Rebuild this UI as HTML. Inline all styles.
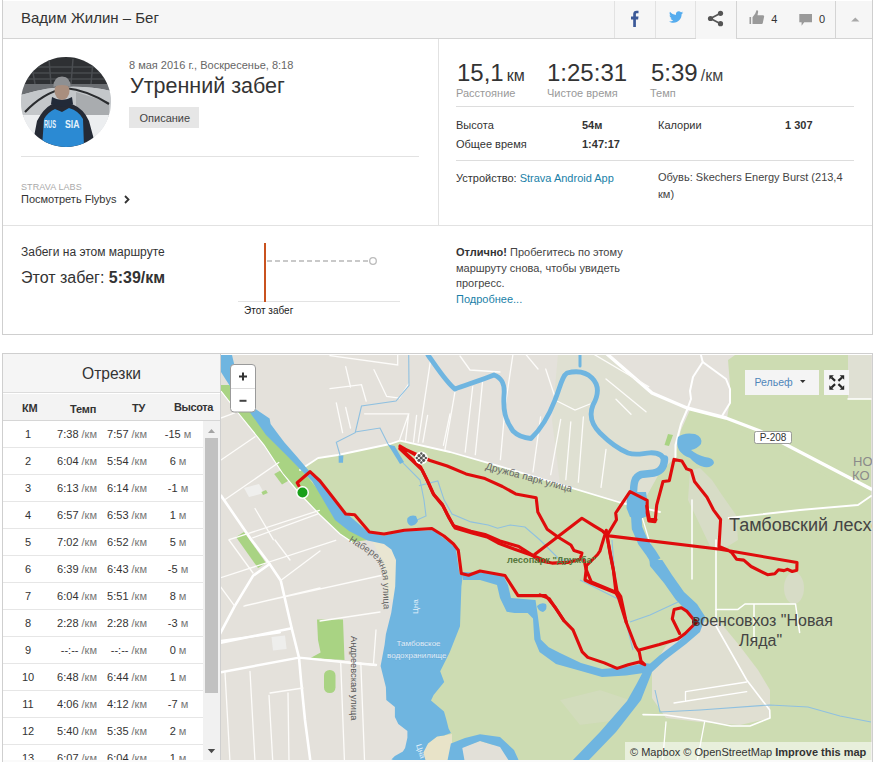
<!DOCTYPE html>
<html><head><meta charset="utf-8">
<style>
*{box-sizing:border-box;margin:0;padding:0}
html,body{width:875px;height:762px;overflow:hidden;background:#fff}
body{position:relative;font-family:"Liberation Sans",Arial,sans-serif;color:#333}
.a{position:absolute}
.t{position:absolute;white-space:nowrap;line-height:1}
.lbl{color:#999;font-size:11px}
.hl{position:absolute;height:1px;background:#ddd}
.vl{position:absolute;width:1px;background:#ddd}
.b{font-weight:bold}
</style></head>
<body>
<!-- CARD 1 -->
<div class="a" style="left:2px;top:0;width:871px;height:335px;border:1px solid #cfcfcf;border-top:none"></div>
<div class="a" style="left:3px;top:1px;width:869px;height:37px;background:#f6f6f6"></div>
<div class="hl" style="left:3px;top:38px;width:693px;background:#d4d4d4"></div>
<div class="hl" style="left:736px;top:38px;width:136px;background:#d4d4d4"></div>
<div class="a" style="left:696px;top:38px;width:40px;height:1px;background:#f6f6f6"></div>
<div class="vl" style="left:614px;top:1px;height:37px;background:#e2e2e2"></div>
<div class="vl" style="left:655px;top:1px;height:37px;background:#e2e2e2"></div>
<div class="vl" style="left:695px;top:1px;height:37px;background:#e2e2e2"></div>
<div class="vl" style="left:736px;top:1px;height:38px;background:#d4d4d4"></div>
<div class="vl" style="left:835px;top:1px;height:37px;background:#d4d4d4"></div>
<div class="t" style="left:21px;top:10px;font-size:15px;color:#333">Вадим Жилин – Бег</div>
<!-- header icons -->
<svg class="a" style="left:600px;top:0" width="275" height="38" viewBox="600 0 275 38">
  <path d="M633.2 27V19.4h-2.2v-3h2.2v-2.3c0-2.3 1.3-3.4 3.3-3.4 0.9 0 1.7 0.1 2 0.1v2.5h-1.3c-1.1 0-1.3 0.5-1.3 1.2v1.9h2.6l-0.4 3h-2.2V27z" fill="#3b5998"/>
  <path d="M683.2 12.6c-0.5 0.2-1.1 0.4-1.7 0.5 0.6-0.4 1.1-1 1.3-1.6-0.6 0.3-1.2 0.6-1.9 0.7-0.5-0.6-1.3-0.9-2.1-0.9-1.6 0-2.9 1.3-2.9 2.9 0 0.2 0 0.5 0.1 0.7-2.4-0.1-4.6-1.3-6-3.1-0.3 0.4-0.4 0.9-0.4 1.5 0 1 0.5 1.9 1.3 2.4-0.5 0-0.9-0.2-1.3-0.4 0 1.4 1 2.6 2.3 2.9-0.4 0.1-0.9 0.1-1.3 0.1 0.4 1.2 1.4 2 2.7 2-1 0.8-2.3 1.2-3.6 1.2-0.2 0-0.5 0-0.7 0 1.3 0.8 2.8 1.3 4.4 1.3 5.3 0 8.2-4.4 8.2-8.2v-0.4c0.6-0.4 1.1-0.9 1.5-1.5z" fill="#55acee"/>
  <g fill="#555" stroke="#555">
    <circle cx="710.5" cy="18.5" r="2.6" stroke="none"/>
    <circle cx="720.5" cy="13.3" r="2.6" stroke="none"/>
    <circle cx="720.5" cy="23.7" r="2.6" stroke="none"/>
    <path d="M710.5 18.5L720.5 13.3M710.5 18.5L720.5 23.7" stroke-width="1.8" fill="none"/>
  </g>
  <g fill="#9a9a9a">
    <rect x="749.5" y="17" width="1.6" height="7" />
    <path d="M752.5 17.2l2.8-3.6 1.2-3.4c1.2-0.2 1.8 0.6 1.6 1.8l-0.6 3.2h5.3c0.9 0 1.5 0.8 1.3 1.6l-1.3 6.3c-0.2 0.7-0.8 1-1.4 1h-8.9z"/>
    <path d="M799.3 14h12.7v8.3h-7.8l-2.6 3.4v-3.4h-2.3z"/>
    <path d="M851.2 21.6l4.1-4.2 4.1 4.2z" fill="#a8a8a8"/>
  </g>
  <text x="771.3" y="22.8" font-size="11" fill="#333" font-family="Liberation Sans, Arial, sans-serif">4</text>
  <text x="819" y="22.8" font-size="11" fill="#333" font-family="Liberation Sans, Arial, sans-serif">0</text>
</svg>

<!-- left column -->
<svg class="a" style="left:21px;top:57px" width="90" height="90" viewBox="0 0 90 90">
  <defs><clipPath id="cc"><circle cx="45" cy="45" r="45"/></clipPath></defs>
  <g clip-path="url(#cc)">
    <rect width="90" height="90" fill="#d9dcdf"/>
    <rect width="90" height="27" fill="#2e3033"/>
    <path d="M0 10H90M0 16H90M0 22H90" stroke="#55585c" stroke-width="1.2"/>
    <path d="M10 4L14 27M28 2L30 27M52 2L50 27M72 4L70 27" stroke="#4a4d51" stroke-width="1.5"/>
    <path d="M0 27H90V34Q45 24 0 38z" fill="#6b6e72"/>
    <path d="M0 38 Q45 24 90 34 L90 60 L0 60z" fill="#c4c7ca"/>
    <path d="M55 35 Q70 40 88 45 L88 58 L55 58z" fill="#a9acaf"/>
    <path d="M0 58 L90 58 L90 90 L0 90z" fill="#eceef0"/>
    <path d="M4 55 Q22 36 44 31 Q66 33 88 47" stroke="#2a2c2f" stroke-width="2.2" fill="none"/>
    <ellipse cx="41" cy="34" rx="7.5" ry="9" fill="#a98e7e"/>
    <path d="M32.5 30 Q32 20 41 19.5 Q50 20 49.5 30 Q41 26 32.5 30z" fill="#8e9093"/>
    <path d="M11 90 L16 64 Q22 52 31 47 L41 49 L51 47 Q63 52 68 64 L75 90z" fill="#252a35"/>
    <path d="M21 90 L23 62 Q27 55 34 52 L41 55 L48 51 Q58 54 62 62 L63 90z" fill="#2b8ad3"/>
    <path d="M31 40 Q41 46 51 40 L52 47 Q41 53 30 47z" fill="#222a38"/>
    <text x="23" y="70.5" font-size="11.5" font-weight="bold" fill="#e6f2fb" textLength="12" lengthAdjust="spacingAndGlyphs" font-family="Liberation Sans, Arial, sans-serif">RUS</text>
    <text x="44" y="70.5" font-size="11.5" font-weight="bold" fill="#e6f2fb" textLength="14.5" lengthAdjust="spacingAndGlyphs" font-family="Liberation Sans, Arial, sans-serif">SIA</text>
  </g>
</svg>
<div class="t" style="left:129px;top:60px;font-size:11px;color:#666">8 мая 2016 г., Воскресенье, 8:18</div>
<div class="t" style="left:130px;top:76px;font-size:21.5px;color:#333">Утренний забег</div>
<div class="a" style="left:129px;top:107px;width:70px;height:21px;background:#e6e6e6"></div>
<div class="t" style="left:139.5px;top:113px;font-size:11px;color:#444">Описание</div>
<div class="hl" style="left:21px;top:156px;width:398px;background:#e2e2e2"></div>
<div class="t" style="left:21px;top:183px;font-size:9px;color:#aaa;letter-spacing:0.1px">STRAVA LABS</div>
<div class="t" style="left:21px;top:194px;font-size:11px;color:#333">Посмотреть Flybys</div>
<svg class="a" style="left:124px;top:195px" width="6" height="9"><path d="M1 1L4.5 4.5L1 8" stroke="#333" stroke-width="1.8" fill="none"/></svg>

<div class="vl" style="left:438px;top:39px;height:186px;background:#e2e2e2"></div>
<div class="hl" style="left:3px;top:225px;width:869px;background:#e2e2e2"></div>

<!-- right stats -->
<div class="t" style="left:457px;top:61px;font-size:24px;color:#333">15,1<span style="font-size:16px;margin-left:3px">км</span></div>
<div class="t" style="left:547px;top:61px;font-size:24px;color:#333">1:25:31</div>
<div class="t" style="left:651px;top:61px;font-size:24px;color:#333">5:39<span style="font-size:16px;margin-left:3px;color:#444">/км</span></div>
<div class="t lbl" style="left:456px;top:88px">Расстояние</div>
<div class="t lbl" style="left:547px;top:88px">Чистое время</div>
<div class="t lbl" style="left:650px;top:88px">Темп</div>
<div class="hl" style="left:456px;top:106px;width:398px;background:#ddd"></div>
<div class="t" style="left:456px;top:120px;font-size:11px">Высота</div>
<div class="t b" style="left:582px;top:120px;font-size:11px">54м</div>
<div class="t" style="left:658px;top:120px;font-size:11px">Калории</div>
<div class="t b" style="left:785px;top:120px;font-size:11px">1 307</div>
<div class="t" style="left:456px;top:139px;font-size:11px">Общее время</div>
<div class="t b" style="left:582px;top:139px;font-size:11px">1:47:17</div>
<div class="hl" style="left:456px;top:160px;width:398px;background:#ddd"></div>
<div class="t" style="left:456px;top:173px;font-size:11px">Устройство: <span style="color:#1a7fa8">Strava Android App</span></div>
<div class="a" style="left:658px;top:169px;width:190px;font-size:11px;line-height:17px;color:#444">Обувь: Skechers Energy Burst (213,4 км)</div>

<!-- route section -->
<div class="t" style="left:21px;top:246px;font-size:12px">Забеги на этом маршруте</div>
<div class="t" style="left:21px;top:270px;font-size:16px">Этот забег: <b>5:39/км</b></div>
<svg class="a" style="left:230px;top:235px" width="180" height="90" viewBox="230 235 180 90">
  <line x1="238" y1="301.5" x2="400" y2="301.5" stroke="#e3e3e3" stroke-width="1"/>
  <line x1="267" y1="261" x2="369" y2="261" stroke="#c9c9c9" stroke-width="2" stroke-dasharray="5 3"/>
  <circle cx="373" cy="261" r="3.3" fill="#fff" stroke="#bbb" stroke-width="1.3"/>
  <line x1="265" y1="243" x2="265" y2="302" stroke="#c9521f" stroke-width="2"/>
  <text x="244" y="314" font-size="10" fill="#222" font-family="Liberation Sans, Arial, sans-serif">Этот забег</text>
</svg>
<div class="a" style="left:456px;top:245px;width:176px;font-size:11px;line-height:15.6px;color:#444"><b style="color:#333">Отлично!</b> Пробегитесь по этому маршруту снова, чтобы увидеть прогресс.<br><span style="color:#1a7fa8">Подробнее...</span></div>

<!-- CARD 2 -->
<div class="a" style="left:2px;top:353px;width:871px;height:409px;border:1px solid #cfcfcf;border-bottom:none"></div>
<div id="seg" class="a" style="left:3px;top:354px;width:217px;height:408px;background:#fff;overflow:hidden"></div>
<!--TABLE-->
<div class="a" style="left:3px;top:354px;width:217px;height:39px;background:#f5f5f5;border-bottom:1px solid #dcdcdc"></div>
<div class="t" style="left:3px;width:217px;text-align:center;top:366px;font-size:15.6px;color:#333">Отрезки</div>
<div class="a" style="left:3px;top:394px;width:217px;height:27px;background:#f3f3f3;border-bottom:1px solid #d6d6d6"></div>
<div class="t" style="left:22px;top:403px;font-size:11px;font-weight:bold;color:#333;letter-spacing:-0.2px">КМ</div>
<div class="t" style="left:70px;top:404px;font-size:11px;font-weight:bold;color:#333;letter-spacing:-0.2px">Темп</div>
<div class="t" style="left:132px;top:403px;font-size:11px;font-weight:bold;color:#333;letter-spacing:-0.2px">ТУ</div>
<div class="t" style="left:174px;top:402px;font-size:11px;font-weight:bold;color:#333;letter-spacing:-0.2px;letter-spacing:-0.4px">Высота</div>
<div class="hl" style="left:3px;top:447px;width:200px;background:#e6e6e6"></div>
<div class="t" style="left:3px;width:50px;text-align:center;top:429px;font-size:11px;color:#333">1</div>
<div class="t" style="right:778px;top:429px;font-size:11px;color:#333">7:38 <span style="color:#777">/км</span></div>
<div class="t" style="right:728px;top:429px;font-size:11px;color:#333">7:57 <span style="color:#777">/км</span></div>
<div class="t" style="left:153px;width:50px;text-align:center;top:429px;font-size:11px;color:#333">-15 <span style="color:#777">м</span></div>
<div class="hl" style="left:3px;top:474px;width:200px;background:#e6e6e6"></div>
<div class="t" style="left:3px;width:50px;text-align:center;top:456px;font-size:11px;color:#333">2</div>
<div class="t" style="right:778px;top:456px;font-size:11px;color:#333">6:04 <span style="color:#777">/км</span></div>
<div class="t" style="right:728px;top:456px;font-size:11px;color:#333">5:54 <span style="color:#777">/км</span></div>
<div class="t" style="left:153px;width:50px;text-align:center;top:456px;font-size:11px;color:#333">6 <span style="color:#777">м</span></div>
<div class="hl" style="left:3px;top:501px;width:200px;background:#e6e6e6"></div>
<div class="t" style="left:3px;width:50px;text-align:center;top:483px;font-size:11px;color:#333">3</div>
<div class="t" style="right:778px;top:483px;font-size:11px;color:#333">6:13 <span style="color:#777">/км</span></div>
<div class="t" style="right:728px;top:483px;font-size:11px;color:#333">6:14 <span style="color:#777">/км</span></div>
<div class="t" style="left:153px;width:50px;text-align:center;top:483px;font-size:11px;color:#333">-1 <span style="color:#777">м</span></div>
<div class="hl" style="left:3px;top:528px;width:200px;background:#e6e6e6"></div>
<div class="t" style="left:3px;width:50px;text-align:center;top:510px;font-size:11px;color:#333">4</div>
<div class="t" style="right:778px;top:510px;font-size:11px;color:#333">6:57 <span style="color:#777">/км</span></div>
<div class="t" style="right:728px;top:510px;font-size:11px;color:#333">6:53 <span style="color:#777">/км</span></div>
<div class="t" style="left:153px;width:50px;text-align:center;top:510px;font-size:11px;color:#333">1 <span style="color:#777">м</span></div>
<div class="hl" style="left:3px;top:555px;width:200px;background:#e6e6e6"></div>
<div class="t" style="left:3px;width:50px;text-align:center;top:537px;font-size:11px;color:#333">5</div>
<div class="t" style="right:778px;top:537px;font-size:11px;color:#333">7:02 <span style="color:#777">/км</span></div>
<div class="t" style="right:728px;top:537px;font-size:11px;color:#333">6:52 <span style="color:#777">/км</span></div>
<div class="t" style="left:153px;width:50px;text-align:center;top:537px;font-size:11px;color:#333">5 <span style="color:#777">м</span></div>
<div class="hl" style="left:3px;top:582px;width:200px;background:#e6e6e6"></div>
<div class="t" style="left:3px;width:50px;text-align:center;top:564px;font-size:11px;color:#333">6</div>
<div class="t" style="right:778px;top:564px;font-size:11px;color:#333">6:39 <span style="color:#777">/км</span></div>
<div class="t" style="right:728px;top:564px;font-size:11px;color:#333">6:43 <span style="color:#777">/км</span></div>
<div class="t" style="left:153px;width:50px;text-align:center;top:564px;font-size:11px;color:#333">-5 <span style="color:#777">м</span></div>
<div class="hl" style="left:3px;top:609px;width:200px;background:#e6e6e6"></div>
<div class="t" style="left:3px;width:50px;text-align:center;top:591px;font-size:11px;color:#333">7</div>
<div class="t" style="right:778px;top:591px;font-size:11px;color:#333">6:04 <span style="color:#777">/км</span></div>
<div class="t" style="right:728px;top:591px;font-size:11px;color:#333">5:51 <span style="color:#777">/км</span></div>
<div class="t" style="left:153px;width:50px;text-align:center;top:591px;font-size:11px;color:#333">8 <span style="color:#777">м</span></div>
<div class="hl" style="left:3px;top:636px;width:200px;background:#e6e6e6"></div>
<div class="t" style="left:3px;width:50px;text-align:center;top:618px;font-size:11px;color:#333">8</div>
<div class="t" style="right:778px;top:618px;font-size:11px;color:#333">2:28 <span style="color:#777">/км</span></div>
<div class="t" style="right:728px;top:618px;font-size:11px;color:#333">2:28 <span style="color:#777">/км</span></div>
<div class="t" style="left:153px;width:50px;text-align:center;top:618px;font-size:11px;color:#333">-3 <span style="color:#777">м</span></div>
<div class="hl" style="left:3px;top:663px;width:200px;background:#e6e6e6"></div>
<div class="t" style="left:3px;width:50px;text-align:center;top:645px;font-size:11px;color:#333">9</div>
<div class="t" style="right:778px;top:645px;font-size:11px;color:#333">--:-- <span style="color:#777">/км</span></div>
<div class="t" style="right:728px;top:645px;font-size:11px;color:#333">--:-- <span style="color:#777">/км</span></div>
<div class="t" style="left:153px;width:50px;text-align:center;top:645px;font-size:11px;color:#333">0 <span style="color:#777">м</span></div>
<div class="hl" style="left:3px;top:690px;width:200px;background:#e6e6e6"></div>
<div class="t" style="left:3px;width:50px;text-align:center;top:672px;font-size:11px;color:#333">10</div>
<div class="t" style="right:778px;top:672px;font-size:11px;color:#333">6:48 <span style="color:#777">/км</span></div>
<div class="t" style="right:728px;top:672px;font-size:11px;color:#333">6:44 <span style="color:#777">/км</span></div>
<div class="t" style="left:153px;width:50px;text-align:center;top:672px;font-size:11px;color:#333">1 <span style="color:#777">м</span></div>
<div class="hl" style="left:3px;top:717px;width:200px;background:#e6e6e6"></div>
<div class="t" style="left:3px;width:50px;text-align:center;top:699px;font-size:11px;color:#333">11</div>
<div class="t" style="right:778px;top:699px;font-size:11px;color:#333">4:06 <span style="color:#777">/км</span></div>
<div class="t" style="right:728px;top:699px;font-size:11px;color:#333">4:12 <span style="color:#777">/км</span></div>
<div class="t" style="left:153px;width:50px;text-align:center;top:699px;font-size:11px;color:#333">-7 <span style="color:#777">м</span></div>
<div class="hl" style="left:3px;top:744px;width:200px;background:#e6e6e6"></div>
<div class="t" style="left:3px;width:50px;text-align:center;top:726px;font-size:11px;color:#333">12</div>
<div class="t" style="right:778px;top:726px;font-size:11px;color:#333">5:40 <span style="color:#777">/км</span></div>
<div class="t" style="right:728px;top:726px;font-size:11px;color:#333">5:35 <span style="color:#777">/км</span></div>
<div class="t" style="left:153px;width:50px;text-align:center;top:726px;font-size:11px;color:#333">2 <span style="color:#777">м</span></div>
<div class="hl" style="left:3px;top:771px;width:200px;background:#e6e6e6"></div>
<div class="t" style="left:3px;width:50px;text-align:center;top:753px;font-size:11px;color:#333">13</div>
<div class="t" style="right:778px;top:753px;font-size:11px;color:#333">6:07 <span style="color:#777">/км</span></div>
<div class="t" style="right:728px;top:753px;font-size:11px;color:#333">6:04 <span style="color:#777">/км</span></div>
<div class="t" style="left:153px;width:50px;text-align:center;top:753px;font-size:11px;color:#333">1 <span style="color:#777">м</span></div>
<div class="a" style="left:203px;top:421px;width:17px;height:341px;background:#f1f1f1"></div>
<div class="a" style="left:205px;top:438px;width:13px;height:255px;background:#c1c1c1"></div>
<svg class="a" style="left:203px;top:421px" width="17" height="341"><path d="M5 12h7l-3.5-4z" fill="#a3a3a3"/><path d="M4.8 328h7.4l-3.7 4.2z" fill="#4a4a4a"/></svg>
<div class="vl" style="left:220px;top:354px;height:408px;background:#cfcfcf"></div>
<!--/TABLE-->
<!--MAP-->
<svg class="a" style="left:221px;top:355px" width="651" height="406" viewBox="221 355 651 406" font-family="Liberation Sans, Arial, sans-serif">
<rect x="221" y="355" width="651" height="406" fill="#e4e1db"/>
<!-- green park areas -->
<path fill="#cddcb2" d="M300 470 L318 457 L338 455 L390 444 L400 440.6 L450 452 L500 466.3 L620 502 L640 508 L660 470 L675 455 L681 430 L690 410 L726 418 L760 431 L871 480 L871 761 L520 761 L500 745 L455 745 L425 745 L420 720 L415 700 L410 680 L420 650 L430 620 L440 590 L430 560 L400 545 L370 540 L345 522 L320 500z"/>
<path fill="#cddcb2" d="M735 355 L871 355 L871 500 L760 440 L726 425 L730 400 L730 385 L728 360z"/>
<path fill="#dfe0d3" d="M848 355 L871 355 L871 399 L848 399z"/>
<!-- beige settlement patch -->
<path fill="#e0dfd2" d="M652 668 L666 646 L690 630 L705 622 L720 622 L739 645 L758 670 L770 690 L770 718 L740 725 L700 722 L666 718 L652 698z"/>
<path fill="#e8e3c8" d="M423 761 L423.4 752.6 L428 743.4 L437.1 736.6 L444 735.4 L452 734 L452 748 L448 761z"/>
<path fill="#e2e0d8" d="M462 762 L465 746 L480 741 L500 747 L509 761z"/>
<path fill="#dfe0d2" d="M558 354 L607 354 L652 393 L687 408 L681 424 L675 457 L663 470 L660 472 L640 508 L620 502 L560 484 L552 420z"/>
<path fill="#d7dcc6" d="M690 470 L700 468 L712 480 L722 495 L736 515 L738 540 L725 548 L710 546 L700 525 L688 500z"/>
<ellipse cx="794" cy="588" rx="10" ry="16" fill="#d7dcc6"/>
<path fill="#d7dcc6" d="M560 700 L600 690 L630 700 L620 720 L580 725z" opacity="0.5"/>
<!-- bright green small parks -->
<path fill="#a9d383" d="M221 385 L236 385 L256 412 L268 430 L280 445 L293 461 L306 475 L318 490 L335 508 L355 528 L368 540 L352 542 L340 534 L320 515 L300 494 L283 474 L264 445 L239 414 L221 391z"/>
<path d="M221 391 L239 414 L264 445 L283 474 L300 494 L320 515 L340 534 L352 542" fill="none" stroke="#fff" stroke-width="1.2"/>
<path fill="#a9d383" d="M236 537 L244 532 L266 563 L258 568z"/>
<path fill="#a9d383" d="M317 619.5 L343 619.5 L344.5 660 L310.5 658 L320.6 652.6 L318 640z"/>
<rect x="324" y="670" width="11.5" height="23" rx="5.5" fill="#a9d383"/>
<path fill="#a9d383" d="M668 434 L673 435 L669 446 L664.5 445z"/>
<path fill="#eeeeec" d="M271.5 637 L285 635.5 L286.6 649 L273 650.5z"/>
<path fill="#efefed" d="M244 488 L259 484 L264 493 L249 497z"/>
<path fill="#a9d383" d="M274.2 474 L280 470.8 L288 481 L282 484.6z"/>
<path fill="#a9d383" d="M261.4 492 L266 490 L267.8 493 L263 495z"/>
<!-- white roads -->
<g fill="none" stroke="#fff" stroke-linecap="round" stroke-linejoin="round">
  <path d="M607 354 L652 393 L687 408 L726 418 L760 431 L871 489" stroke-width="3.4"/>
  <path d="M221 495.6 L251.3 539.7 L269.6 564 L280.7 580.4 L291.7 628.2 L299 657.6 L301 680 L305 720 L310.5 762" stroke-width="2.6"/>
  <path d="M269.6 564 L253 575.8 L234.7 606.2 L220 633.8" stroke-width="2.6"/>
  <path d="M220 643 L291.7 628.2" stroke-width="2.4"/>
  <path d="M220 672.4 L299 657.6 L350.7 662.7 L376 665" stroke-width="2.4"/>
  <path d="M280 632.5 L220 641" stroke-width="2"/>
  <path d="M300 470 L318 458 L338 455 L390 444 L400 440.6 L450 452 L500 466.3 L620 502.5 L660 512" stroke-width="1.8"/>
  <path d="M700.7 354 L702.7 362 L693 377 L690 391 L691 399 L687 410 L681 424 L675.5 445 L675.5 457" stroke-width="2"/>
  <path d="M702.7 362 L726 379 L730 389 L730 403 L722 416" stroke-width="2"/>
  <path d="M728.6 518 L800 510 L858 505 L871 496" stroke-width="1.8"/>
  <path d="M692 500 L692 579" stroke-width="1.5"/>
  <path d="M716 540 L716 626 L746.7 680 L769.7 710 L770 718 L750 726 L731 726 L700 720 L666 715 L643 714.6" stroke-width="1.6"/>
  <path d="M716 609.6 L737.6 609.6 L745 604 L795.5 604 L799.6 632.4 M754 604 L754 640" stroke-width="1.5"/>
  <path d="M674 703 L746.7 691.6 M685.5 691.6 L685.5 700 M685.5 691.6 L746.7 682 M666 722 L662.5 762 M704.6 722 L697 762" stroke-width="1.3"/>
  <path d="M848 399 L871 399" stroke-width="1.5"/>
  <path d="M640 510 L655 560" stroke-width="1.2"/>
</g>
<g fill="none" stroke="#fdfcfa" stroke-width="1.3" stroke-linecap="round">
  <path d="M220 418.4 L234.7 412.9 M220 460.7 L255 436.8 M225.5 499.3 L278.8 462.5 M229.2 539.7 L319.3 510.3 M255 508.5 L273.3 539.7"/>
  <path d="M220 586 L234.7 606.2 M243.9 606.2 L320 587.8 M280.7 580.4 L320 551 M229 540 L253 573 M275 540 L290 560 M252.7 537.8 L318 513.9 M220 578 L335.7 540.3 M245 605.7 L381 575.5"/>
  <path d="M320 621 L380 612 M320 659.5 L376 665 M225 672.7 L230 762 M250 671.5 L255 762 M269 695.4 L272.8 762 M288 693 L289 762 M270 693 L303 688 M340.7 662.7 L344.5 762 M360.8 662.7 L364.6 762 M376 630 L373.4 665"/>
  <path d="M330 355.6 L397.7 365 L397.7 354 M345.7 366.6 L350.5 387 M330 388.6 L361.5 384.7 L366.2 401.2 M374 369.7 L386.7 396.5 L399.3 398.1 L408.7 384 M336.3 402.8 L342.6 432.7 M345.7 407.5 L350.5 428 M364.6 413.8 L408.7 413.8 L399.3 440.6 M408.7 413.8 L405.6 440.6 M430.8 358.7 L418.2 442.2 M416.6 415.4 L413.5 442.2 M427.6 415.4 L422.9 442.2 M450 413.8 L443.4 445.3"/>
  <path d="M455 391.7 L445 449.5 M472.7 386.7 L465.2 452 M482.8 379 L475.3 454.6 M505.4 404.3 L500.4 459.6 M513 354 L505.4 404.3 M540.6 417 L533 472 M560.7 419.4 L550.7 474.7 M570.8 421.9 L565.8 479.7 M583.4 417 L578.3 482.2 M606 449.5 L601 487.3"/>
  <path d="M525.5 354 L538 369 M545.7 369 L555.7 399.3 M593.4 354 L648.8 386.7 M606 379 L646 411.8 M616 399.3 L631 414.3 M460 356 L470 370 L500 372 M555 400 L575 410 L590 404"/>
</g>
<path fill="#e9e6d2" d="M372 541 L386 543 L393 549 L397 560 L397 592 L393 600 L386 598 L384 570 L378 552z"/>
<!-- water -->
<g fill="#6fb5e0">
  <path d="M221 355 L232 355 L236 372 L242 392 L250 410 L253 407.4 L269.6 418.4 L270.6 424 L278.8 435 L284.3 442.3 L297.2 457 L308.2 469.9 L320 479 L330 495 L345 512 L360 525 L368 532 L384 535.8 L400.6 531 L433.7 530.3 L455.7 547.8 L459.4 573.5 L462.7 576 L461.4 586.5 L460 626.2 L449.5 652.7 L440.2 671.3 L444.2 681.9 L433.6 695.1 L431 700.4 L444 711.4 L446.3 719.4 L448.6 728.6 L450.9 733 L444 735.4 L437.1 736.6 L428 743.4 L423.4 752.6 L425.7 761 L398 761 L391.4 759.4 L394.9 756 L402.9 751.4 L405.1 748 L407.4 737.7 L407.4 730.9 L398.3 724 L394.9 717 L394.9 706.9 L386.3 700 L385.9 687.2 L380.6 666 L384.6 644.8 L385.9 634.2 L391.2 613 L395.2 586.5 L396 560 L391.4 549.6 L384 544 L367.6 540.4 L349 531 L335 520 L312 480.9 L300.9 469.9 L286.2 455.1 L266 435 L250.3 412.9 L238 398 L226 380 L221 372z"/>
  <path d="M447.4 761 L450.9 743.4 L465 738 L480 734.3 L500 737 L514 750 L519 761 L509 761 L500 747 L480 741.1 L462.3 748 L464.6 761z"/>
  <!-- second branch from lake -->
  <path d="M462 572 L480 572.5 L503 575 L508 585 L511 598 L535.5 600 L538 617 L540.8 639.4 L548.7 647.2 L560 653 L581 663 L602 669 L626 667 L645 663 L652 664 L651 672 L626 675.5 L602 677 L581 671 L556 664 L539.5 652 L534.3 639.4 L533 618.4 L527.7 613 L514.6 613 L506.7 611.8 L500 598 L497 585 L480 580 L463 580z"/>
  <path d="M537 606 Q541 602 546 604 Q548 609 543 612 Q538 611 537 606z"/>
  <!-- Tsna main -->
  <path d="M649.4 560 L662.3 560 L672 575 L684 592 L697 604 L705.4 617 L700 632 L686 644 L665 660 L652 672 L641 700 L616 732 L588 761 L572 761 L600 732 L627 701 L636 685 L645 668 L660 655 L680 640 L692 628 L696 621 L688 612 L676 600 L664 583 L650 566z"/>
  <!-- Tsna upper -->
  <path d="M629 492 L646 492 L648 505 L647.5 516 L640 519 L630 517 L626.5 508 L627 498z"/>
  <!-- small lake -->
  <path d="M678 437 Q684 432 695 434 Q703 437 701 444 Q697 449 691 450 Q697 455 705 457 Q714 458 714 463 Q712 468 704 467 Q696 465 690 458 Q682 455 679 450 Q676 444 678 437z"/>
</g>
<!-- meandering river -->
<g fill="none" stroke="#6fb5e0" stroke-linejoin="round" stroke-linecap="round">
  <path d="M428 355 C436 366 446 382 455 389 C462 386 482 380 494 375 C502 378 505 384 504 395 C503 410 505 420 513 431 C518 436 524 438 531 438.5 C540 430 548 418 555 400 C560 388 562 376 567 373 C575 371 585 371 592 378 C600 386 598 396 593 405 C589 415 592 425 600 433 C608 441 616 448 628 453 C637 456 643 453 650 452.8 C658 452.5 664 455 664.5 463 C664 470 658 473 650 473.5 L641 474.5 C635 477 633.5 481 633.5 492" stroke-width="4.8"/>
  <path d="M636 512 L637 528 L643 542 L651 553 L656 561" stroke-width="10.5" stroke-linecap="butt"/>
  <path d="M664.5 459 C664 470 658 473 650 473.5 L641 474.5 C635 477 633.5 481 633.5 495" stroke-width="7.5"/>
  <path d="M580 354 L580 366" stroke-width="3"/>
</g>
<g fill="none" stroke="#8fc0e0" stroke-width="1.1">
  <path d="M408.7 354 L409 385.5 L396 401 L361.5 406 L355.2 432.7 L336.3 442.2 L340 455"/>
  <path d="M355 432 L380 428 L388 444 L404 464 L420 480 L424 500 L426 516 L417 520"/>
  <path d="M418.9 485.7 L437.8 481 L444.1 499.8 L452 514 L470.9 521.9 L488.2 525 L497.6 528.2 L510.2 525 L525 527 L540 540 L552 552 L560 560 L580 560"/>
  <path d="M612 540 L615 580 L620 600 L626 622 L633 650 M630 622 L650 615 L678 602"/>
  <path d="M580 580 L600 590 L620 600"/>
  <path d="M655 690 L660 712 L700 710 L769.7 705 L808 707 L840 716 L871 722"/>
</g>
<g fill="#6fb5e0"><path d="M338.7 455.6 L343.4 455.6 L343 462.7 L338.7 462.7z"/><path d="M388 444.6 L394.6 446 L404 462 L400 464z"/><path d="M407.5 518 Q411 514.5 416 516 L418 521 Q415 526.5 410 525.5 Q406 523 407.5 518z"/></g>
<!-- route -->
<g fill="none" stroke="#df0c0c" stroke-width="3.1" stroke-linejoin="round" stroke-linecap="round">
  <path d="M299 486 L297.2 482.7 L310 471.7 L320 481 L331 495 L345.7 514 L354.7 514.7 L369.4 532 L384 534 L404.3 530.3 L431.9 528.5 L444 536 L453.5 544 L458.3 550.2 L461.3 573.5 L468.6 575.3 L480 571 L505 575.5 L518 595.6 L545.7 595.6 L555.7 608 L563.9 620.6 L573 629.8 L582.2 651.8 L587.8 657.4 L604.3 662.9 L617.1 668.4 L628.2 664.7 L639.2 662 L644.7 664.7 L641 661 L639.2 651.8 L635.5 646.3 L626.3 622.5 L620.8 596.7 L617.1 591.2 L613.4 570 L610.2 554.5 L607 535.6"/>
  <path d="M400 446 L420.5 458 M400 447 L430 460.5 L447.2 466 L466 473.9 L485 478.6 L502.4 486.5 L515.7 493.9 L536.2 497.8 L537.8 512 L547.2 529.3 L558.3 537.2 L570.9 545 L574 550.6 L581.9 553 L580.3 559.2 L567.7 562.4 L552 563.1 L539.4 560.8 L531.5 554.5 L518.9 546.6 L500 541 L485 534.5 L470.9 531.3 L453.5 525.8 L447.2 514 L442.5 504.6 L433 493.5 L426.8 479.4 L420.5 466.8 L400 448"/>
  <path d="M400 449 L422 470 L428 482 L434 495 L443 506 L449 518 L455 528 L472 533 L487 537 L498 543 L514 549 L534 556 L548 562"/>
  <path d="M534.6 554.5 L581.9 518.3 L594.5 526.1 L602.4 530.9 L607 535.6 L720 549.2 L797 562.5 L796.8 570.2 L792.2 571.5 L787.6 569.3 L784 570.6 L778.5 569.7 L774.8 573.8 L767.5 574.7 L751.1 566.5 L743.8 560.1 L736.5 559.2 L731.9 552.8 L728.6 550.4 L719 546.4 L720.6 519.5 L713.4 509.8 L707 497.2 L694.5 481.5 L691.3 470.5 L686.6 468.9 L681.9 461 L674 459.4 L669.3 480.7 L663 481.5 L656.7 505.1 L655.1 521.7 L648.8 520.9 L647.2 513 L647.2 500.4 L630 491.7 L615.7 513 L616.5 519.8 L607 535.6 L606.3 530.3 L600 550.8 L597.6 554.5 L586.6 565.5 L585 580 L591 583 L616 593"/>
  <path d="M607 535.6 L613.4 570 L616 593 L618.6 598 L626.3 622.5"/>
  <path d="M540 594.9 L549.2 598.6 L563.9 620.6 M584.1 560 L586 569.2 L591.4 582 L613.5 591.2"/>
  <path d="M639.2 650 L659.4 644.5 L677.8 639 L685.1 633.5 L696.1 622.5 L687 611.4 L681.4 607.8 L674.1 609.6 L672.3 618.8 L679.6 633.5"/>
  <path d="M646.7 506 L649.4 519.5 L656 519.5"/>
</g>
<!-- markers -->
<circle cx="302.5" cy="492.5" r="6.5" fill="#fff"/>
<circle cx="302.5" cy="492.5" r="5" fill="#19a019"/>
<circle cx="421.3" cy="458" r="6.5" fill="#fff"/>
<g fill="#555"><circle cx="419" cy="455.7" r="1.6"/><circle cx="423.6" cy="455.7" r="1.6"/><circle cx="419" cy="460.3" r="1.6"/><circle cx="423.6" cy="460.3" r="1.6"/><circle cx="421.3" cy="458" r="1.6"/><circle cx="416.8" cy="458" r="1.2"/><circle cx="425.8" cy="458" r="1.2"/><circle cx="421.3" cy="453.5" r="1.2"/><circle cx="421.3" cy="462.5" r="1.2"/></g>
<circle cx="695" cy="622" r="3" fill="#8b0000"/>
<!-- labels -->
<text x="0" y="0" font-size="10" fill="#666" transform="translate(485 469) rotate(15)">Дружба парк улица</text>
<path id="nabp" d="M348.5 541 L366.5 552.5 Q381 560.5 382.8 578 L383.8 620" fill="none"/>
<text font-size="9.5" fill="#666"><textPath href="#nabp">Набережная улица</textPath></text>

<text x="0" y="0" font-size="9.3" fill="#555" transform="translate(351 636) rotate(90)">Андреевская улица</text>
<text x="396.5" y="646" font-size="8" fill="#e3f1fb" stroke="#5a9ccc" stroke-width="0.3" paint-order="stroke">Тамбовское</text>
<text x="387" y="658" font-size="8" fill="#e3f1fb" stroke="#5a9ccc" stroke-width="0.3" paint-order="stroke">водохранилище</text>
<text x="0" y="0" font-size="8" fill="#e3f1fb" transform="translate(418 614) rotate(-90)">Цна</text>
<text x="0" y="0" font-size="8" fill="#e3f1fb" transform="translate(416 745) rotate(72)">Цна</text>
<text x="507" y="563" font-size="9.3" font-weight="bold" fill="#55773a">лесопарк "Дружба"</text>
<text x="729" y="531" font-size="18" fill="#444">Тамбовский лесхоз</text>
<text x="692" y="626" font-size="16" fill="#444">военсовхоз "Новая</text>
<text x="739" y="646" font-size="16" fill="#444">Ляда"</text>
<text x="853" y="466" font-size="13" fill="#8a8a8a">НО</text>
<text x="852" y="480" font-size="13" fill="#8a8a8a">КО</text>
<!-- P-208 shield -->
<rect x="754.5" y="431.5" width="37" height="12" rx="2" fill="#fff" stroke="#888" stroke-width="0.8"/>
<text x="773" y="441" font-size="10" fill="#333" text-anchor="middle">Р-208</text>
<!-- controls -->
<rect x="230.5" y="364.5" width="25" height="47.5" rx="3.5" fill="#fff" stroke="#9a9a9a" stroke-width="1"/>
<line x1="231" y1="388.5" x2="255" y2="388.5" stroke="#ddd"/>
<path d="M239 376.5h8M243 372.5v8" stroke="#333" stroke-width="2"/>
<path d="M239.5 400.8h7" stroke="#444" stroke-width="2"/>
<rect x="745" y="370" width="74" height="25" fill="#f4f4f4"/>
<text x="754.5" y="386" font-size="10.5" fill="#4f86ba">Рельеф</text>
<path d="M800 380h5.5l-2.75 3z" fill="#333"/>
<rect x="824" y="370" width="25" height="25" fill="#f5f5f5"/>
<g stroke="#262626" stroke-width="2.2" stroke-linecap="butt">
  <path d="M831.5 377.5l3.6 3.4M842 377.5l-3.6 3.4M831.5 387.5l3.6-3.4M842 387.5l-3.6-3.4"/>
</g>
<g fill="#262626"><path d="M829.3 375.2h4.6l-4.6 4.6z"/><path d="M844.2 375.2h-4.6l4.6 4.6z"/><path d="M829.3 389.8h4.6l-4.6-4.6z"/><path d="M844.2 389.8h-4.6l4.6-4.6z"/></g>
<!-- attribution -->
<rect x="625" y="742" width="247" height="19" fill="#fff" fill-opacity="0.55"/>
<text x="630" y="755.5" font-size="11" fill="#333">© Mapbox © OpenStreetMap <tspan font-weight="bold">Improve this map</tspan></text>
</svg>

<!--/MAP-->
<div class="a" style="left:3px;top:760px;width:869px;height:2px;background:#fafafa"></div>
</body></html>
